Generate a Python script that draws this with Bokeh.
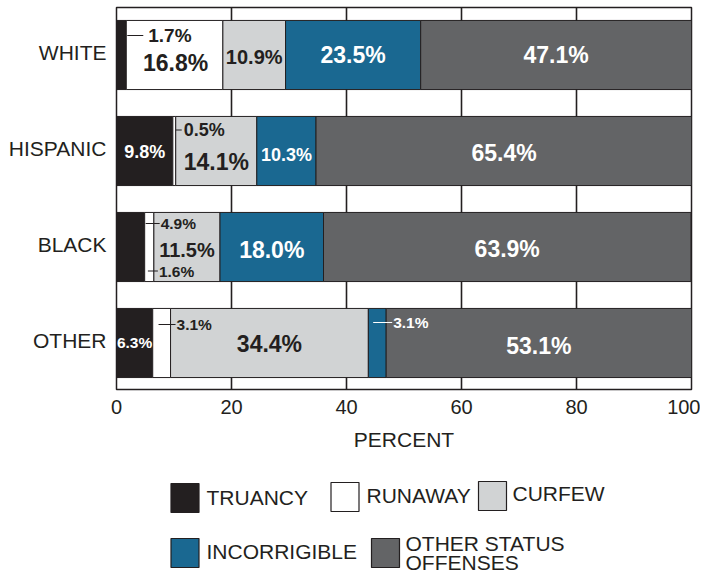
from bokeh.plotting import figure
from bokeh.models import FixedTicker, Range1d
from bokeh.layouts import column
from bokeh.embed import file_html
from bokeh.resources import INLINE
from bokeh.core.properties import value

# ---------------- data ----------------
groups = ["WHITE", "HISPANIC", "BLACK", "OTHER"]
offenses = ["TRUANCY", "RUNAWAY", "CURFEW", "INCORRIGIBLE", "OTHER STATUS\nOFFENSES"]
truancy = [1.7, 9.8, 4.9, 6.3]
runaway = [16.8, 0.5, 1.6, 3.1]
curfew = [10.9, 14.1, 11.5, 34.4]
incorrigible = [23.5, 10.3, 18.0, 3.1]
other_status = [47.1, 65.4, 63.9, 53.1]
x_ticks = [0, 20, 40, 60, 80, 100]
x_label = "PERCENT"

series = [truancy, runaway, curfew, incorrigible, other_status]

# ---------------- style ----------------
DARK = "#231f20"
colors = [DARK, "#ffffff", "#d1d3d4", "#1a6891", "#636466"]
FONT = "Liberation Sans"
PX_X = 5.75   # pixels per percent
PX_Y = 96.0   # pixels per category step
CAT_LABEL_LIFT = 0.03  # small upward nudge of the category labels

# centered: ("c", dx_px, dy_px, size, color)
# callout : ("o", line_start_px_from_right_edge, line_end_px, text_left_px, dy_px, size, color)
label_layout = {
    (0, 0): ("o", 1, 17, 22, -19.5, 19, DARK),
    (0, 1): ("c", 1, 8, 23, DARK),
    (0, 2): ("c", 0, 2, 20, DARK),
    (0, 3): ("c", 0, 0, 23, "white"),
    (0, 4): ("c", 0, 0, 23, "white"),
    (1, 0): ("c", 0, 1, 18, "white"),
    (1, 1): ("o", 0, 6, 8, -21, 18, DARK),
    (1, 2): ("c", 0, 11, 23, DARK),
    (1, 3): ("c", 0, 4, 18, "white"),
    (1, 4): ("c", 0, 2, 23, "white"),
    (2, 0): ("o", 1, 15, 16, -23.5, 15.5, DARK),
    (2, 1): ("o", -6, 4, 5, 24, 15.5, DARK),
    (2, 2): ("c", 0, 2.5, 20, DARK),
    (2, 3): ("c", 0, 2.5, 23, "white"),
    (2, 4): ("c", 0, 2, 23, "white"),
    (3, 0): ("c", 0, -1, 15.5, "white"),
    (3, 1): ("o", -12, 5, 6, -18.5, 15.5, DARK),
    (3, 2): ("c", 0, 0.5, 23, DARK),
    (3, 3): ("o", -13, 6, 7, -20.5, 15.5, "white"),
    (3, 4): ("c", 0, 2.5, 23, "white"),
}

# ---------------- main figure ----------------
W = 700
MAIN_H = 456
BL, BR, BT = 116, 9, 7
FRAME_BOTTOM = 389
p = figure(width=W, height=MAIN_H, x_range=Range1d(0, 100),
           y_range=Range1d(-46.5 / PX_Y, 3 + 47.5 / PX_Y),
           output_backend="svg", toolbar_location=None,
           min_border_left=BL, min_border_right=BR, min_border_top=BT,
           min_border_bottom=MAIN_H - FRAME_BOTTOM)

p.outline_line_color = DARK
p.outline_line_width = 1.5
p.background_fill_color = "white"
p.border_fill_color = "white"

ypos = [len(groups) - 1 - i for i in range(len(groups))]

# bars first
lefts = [0.0] * len(groups)
bounds = []
for j, vals in enumerate(series):
    rights = [l + v for l, v in zip(lefts, vals)]
    p.hbar(y=ypos, left=lefts, right=rights, height=0.72,
           fill_color=colors[j], line_color=DARK, line_width=1)
    bounds.append((lefts, rights))
    lefts = rights

# labels on top
for j, vals in enumerate(series):
    lefts, rights = bounds[j]
    for i in range(len(groups)):
        spec = label_layout[(i, j)]
        txt = f"{vals[i]:.1f}%"
        if spec[0] == "c":
            _, dx, dy, size, col = spec
            cx = (lefts[i] + rights[i]) / 2 + dx / PX_X
            cy = ypos[i] - dy / PX_Y
            p.text(x=[cx], y=[cy], text=[txt], text_align="center",
                   text_baseline="middle", text_font=value(FONT),
                   text_font_style="bold", text_font_size=f"{size}px",
                   text_color=col)
        else:
            _, ls, le, tl, dy, size, col = spec
            r = rights[i]
            cy = ypos[i] - dy / PX_Y
            p.line(x=[r + ls / PX_X, r + le / PX_X], y=[cy, cy],
                   line_color=col, line_width=1.2)
            p.text(x=[r + tl / PX_X], y=[cy], text=[txt], text_align="left",
                   text_baseline="middle", text_font=value(FONT),
                   text_font_style="bold", text_font_size=f"{size}px",
                   text_color=col)

p.xaxis.ticker = FixedTicker(ticks=x_ticks)
p.xgrid.ticker = FixedTicker(ticks=x_ticks)
p.xgrid.grid_line_color = DARK
p.xgrid.grid_line_width = 1.6
p.ygrid.grid_line_color = None

p.xaxis.axis_line_color = None
p.xaxis.major_tick_line_color = None
p.xaxis.minor_tick_line_color = None
p.xaxis.major_label_text_font = FONT
p.xaxis.major_label_text_font_size = "20px"
p.xaxis.major_label_text_color = DARK
p.xaxis.major_label_standoff = 4
p.xaxis.axis_label = x_label
p.xaxis.axis_label_text_font = FONT
p.xaxis.axis_label_text_font_size = "21px"
p.xaxis.axis_label_text_font_style = "normal"
p.xaxis.axis_label_text_color = DARK
p.xaxis.axis_label_standoff = 11

cat_ticks = [y + CAT_LABEL_LIFT for y in ypos]
p.yaxis.ticker = FixedTicker(ticks=cat_ticks)
p.yaxis.major_label_overrides = {t: g for t, g in zip(cat_ticks, groups)}
p.yaxis.axis_line_color = None
p.yaxis.major_tick_line_color = None
p.yaxis.minor_tick_line_color = None
p.yaxis.major_label_text_font = FONT
p.yaxis.major_label_text_font_size = "21px"
p.yaxis.major_label_text_color = DARK
p.yaxis.major_label_standoff = 4

# ---------------- legend figure ----------------
LG_H = 573 - MAIN_H
lg = figure(width=W, height=LG_H, x_range=Range1d(BL, W - BR),
            y_range=Range1d(MAIN_H + LG_H, MAIN_H),
            output_backend="svg", toolbar_location=None,
            min_border_left=BL, min_border_right=BR, min_border_top=0, min_border_bottom=0)
lg.axis.visible = False
lg.grid.visible = False
lg.outline_line_color = None
lg.background_fill_color = "white"
lg.border_fill_color = "white"

# legend item layout (page pixels): square center x, square center y, text left x, text center y
legend_layout = [
    (184.5, 497.5, 206, 497),
    (344.5, 496.5, 366, 495),
    (492.0, 495.5, 512, 493),
    (184.5, 552.5, 206, 551),
    (385.0, 552.5, 405, 543),
]
for name, col, (sx, sy, tx, ty) in zip(offenses, colors, legend_layout):
    lg.rect(x=[sx], y=[sy], width=28, height=29, fill_color=col,
            line_color=DARK, line_width=1.2)
    for k, ln in enumerate(name.split("\n")):
        lg.text(x=[tx], y=[ty + k * 19], text=[ln],
                text_align="left", text_baseline="middle",
                text_font=value(FONT), text_font_size="21px",
                text_color=DARK)

layout = column(p, lg, spacing=0)
open("out.html", "w").write(file_html(layout, INLINE))
